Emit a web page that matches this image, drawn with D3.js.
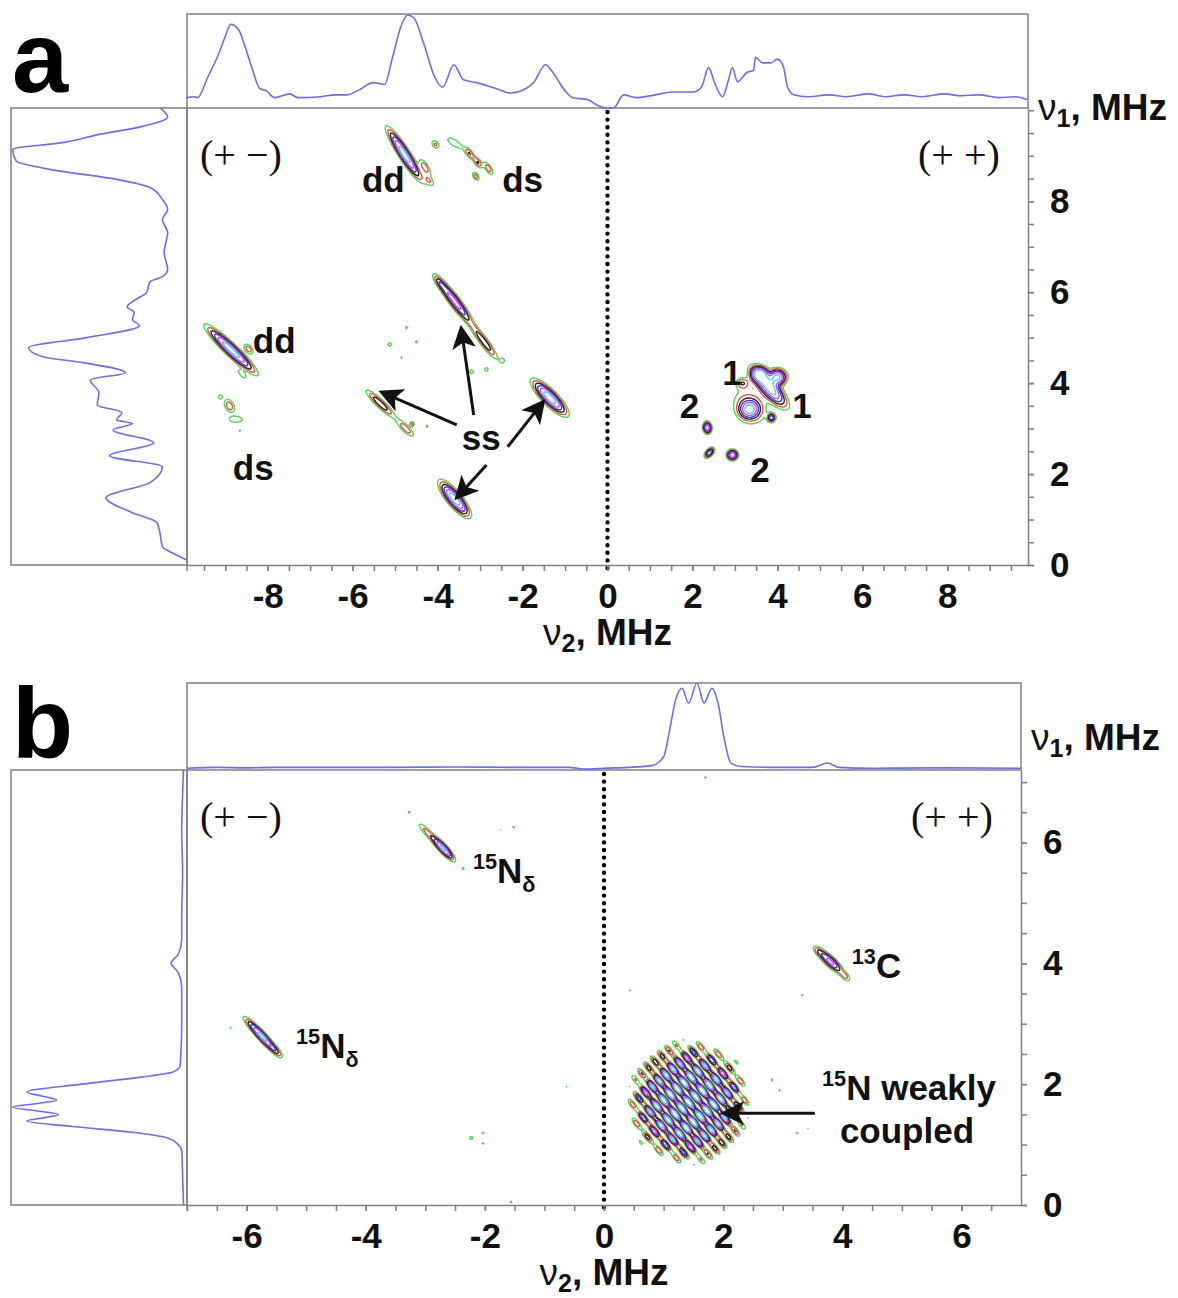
<!DOCTYPE html>
<html>
<head>
<meta charset="utf-8">
<script src="https://cdn.jsdelivr.net/npm/d3@7"></script>
<style>
  body { margin: 0; background: #fff; }
  svg text { font-family: "Liberation Sans", Arial, sans-serif; }
</style>
</head>
<body>
<div id="chart"></div>
<script>
// ---------- panel a : projections [nu, relative intensity] ----------
var topProjA = [[-9.91,0.11],[-9.72,0.12],[-9.65,0.11],[-9.41,0.33],[-9.15,0.58],[-9.01,0.75],[-8.87,0.89],[-8.68,0.83],[-8.56,0.69],[-8.38,0.44],[-8.19,0.21],[-8.02,0.18],[-7.84,0.11],[-7.48,0.15],[-7.29,0.11],[-6.75,0.12],[-6.40,0.14],[-6.14,0.14],[-5.86,0.19],[-5.51,0.27],[-5.25,0.25],[-5.06,0.54],[-4.87,0.86],[-4.71,0.99],[-4.56,0.96],[-4.33,0.69],[-4.07,0.33],[-3.88,0.22],[-3.62,0.46],[-3.39,0.30],[-3.08,0.27],[-2.64,0.21],[-2.28,0.16],[-1.91,0.21],[-1.74,0.27],[-1.46,0.46],[-1.29,0.38],[-1.01,0.19],[-0.82,0.11],[-0.47,0.09],[-0.24,0.03],[-0.02,0.0],[0.14,0.0],[0.38,0.14],[0.68,0.11],[1.13,0.14],[1.51,0.17],[2.02,0.17],[2.21,0.22],[2.38,0.43],[2.52,0.27],[2.71,0.12],[2.85,0.30],[2.94,0.43],[3.06,0.28],[3.29,0.38],[3.44,0.40],[3.48,0.54],[3.65,0.48],[3.84,0.48],[4.0,0.52],[4.14,0.44],[4.24,0.22],[4.38,0.14],[4.73,0.12],[5.22,0.14],[5.62,0.12],[6.16,0.15],[6.52,0.12],[6.99,0.14],[7.41,0.12],[7.93,0.15],[8.33,0.13],[8.75,0.14],[9.22,0.11],[9.58,0.12],[9.88,0.09]];

var leftProjA = [[10.04,0.15],[9.85,0.11],[9.63,0.27],[9.47,0.50],[9.30,0.69],[9.14,0.99],[8.88,0.97],[8.70,0.78],[8.48,0.40],[8.30,0.21],[8.04,0.14],[7.82,0.11],[7.60,0.14],[7.31,0.11],[6.87,0.13],[6.50,0.11],[6.34,0.14],[6.23,0.21],[5.99,0.23],[5.84,0.29],[5.68,0.34],[5.55,0.30],[5.40,0.31],[5.26,0.27],[5.00,0.57],[4.78,0.90],[4.58,0.82],[4.45,0.59],[4.23,0.35],[4.07,0.55],[3.79,0.50],[3.52,0.51],[3.35,0.37],[3.19,0.40],[3.11,0.31],[2.97,0.42],[2.69,0.19],[2.40,0.44],[2.16,0.14],[1.81,0.21],[1.48,0.46],[1.15,0.31],[0.93,0.17],[0.62,0.15],[0.40,0.14],[0.26,0.08],[0.11,0.0]];

// cross peaks [nu2, nu1, amplitude, sigma along, sigma across, ridge slope]
var peaksA = [
  [-4.78,9.03,1.0,0.38,0.07,-1.44],[-4.3,8.75,0.3,0.15,0.06,-1.44],[-4.05,9.25,0.25,0.08,0.06,-1.0],[-4.2,8.45,0.22,0.12,0.06,-1.0],
  [-3.6,9.28,0.2,0.2,0.07,-0.6],[-3.25,9.05,0.32,0.1,0.05,-1.2],[-3.05,8.85,0.35,0.1,0.05,-1.2],[-2.8,8.72,0.3,0.12,0.05,-1.5],[-3.1,8.55,0.28,0.08,0.05,-1.2],
  [-8.86,4.73,1.0,0.42,0.075,-0.88],[-8.45,4.75,0.3,0.1,0.06,-1.0],[-8.6,4.2,0.2,0.12,0.05,-1.0],
  [-8.9,3.5,0.3,0.12,0.08,-1.5],[-8.75,3.2,0.22,0.15,0.06,0],[-9.12,3.7,0.18,0.05,0.05,0],[-8.65,2.95,0.15,0.04,0.04,0],
  [-3.6,5.8,0.75,0.38,0.07,-1.22],[-3.95,6.2,0.22,0.14,0.05,-1.22],[-2.9,4.9,0.45,0.3,0.06,-1.22],[-3.2,4.25,0.18,0.06,0.05,0],[-2.85,4.3,0.18,0.05,0.05,0],[-2.47,4.5,0.18,0.05,0.05,0],
  [-5.13,4.85,0.18,0.05,0.05,0],[-4.73,5.22,0.16,0.04,0.04,0],[-4.5,4.91,0.16,0.04,0.04,0],[-4.85,4.56,0.15,0.04,0.04,0],
  [-5.35,3.55,0.45,0.28,0.06,-0.87],[-4.75,3.0,0.3,0.18,0.06,-0.87],[-4.6,3.1,0.3,0.04,0.04,0],[-4.25,3.05,0.16,0.04,0.04,0],
  [-1.36,3.68,1.0,0.3,0.09,-0.93],
  [-3.6,1.45,1.0,0.28,0.09,-1.1],
  [3.81,3.9,1.0,0.32,0.11,-1.04],[4.0,4.13,0.9,0.13,0.11,0],[3.58,4.2,0.85,0.12,0.1,0],[3.86,3.24,0.55,0.06,0.06,0],[3.34,3.42,0.75,0.14,0.12,0],[3.35,3.5,0.3,0.3,0.25,-1],[3.18,4.0,0.3,0.1,0.08,0],
  [2.35,3.02,0.8,0.08,0.06,-8],[2.4,2.47,0.6,0.09,0.05,1.0],[2.94,2.42,0.8,0.08,0.07,0],[2.87,2.97,0.15,0.03,0.03,0]
];
var blobsA = [];

var xTicksA = [-8,-6,-4,-2,0,2,4,6,8];
var yTicksA = [0,2,4,6,8];
var labelsA = [
  [-5.78,8.2,[["dd"]]],[-2.48,8.2,[["ds"]]],[-8.35,4.66,[["dd"]]],[-8.82,1.87,[["ds"]]],
  [-3.43,2.53,[["ss"]]],[2.7,3.96,[["1"]]],[4.35,3.23,[["1"]]],[1.7,3.23,[["2"]]],[3.36,1.83,[["2"]]]
];
var arrowsA = [[-3.55,3.08,-5.29,3.79],[-3.15,3.30,-3.44,5.18],[-2.35,2.60,-1.53,3.57],[-2.85,2.20,-3.53,1.50]];

// ---------- panel b ----------
var topProjB = [[-7.0,0.02],[-6.5,0.03],[-6.0,0.025],[-5.5,0.03],[-4.5,0.03],[-3.5,0.03],[-2.5,0.035],[-1.5,0.03],[-0.6,0.03],[-0.3,0.01],[0,0.02],[0.4,0.03],[0.8,0.05],[1.0,0.15],[1.1,0.45],[1.2,0.8],[1.31,0.94],[1.42,0.77],[1.56,1.0],[1.68,0.77],[1.81,0.94],[1.92,0.75],[2.02,0.35],[2.13,0.08],[2.3,0.04],[3.0,0.03],[3.5,0.03],[3.75,0.08],[3.95,0.03],[4.5,0.02],[5.5,0.025],[7.0,0.02]];
var leftProjB = [[7.2,0.02],[6.8,0.025],[6.2,0.03],[5.5,0.025],[4.8,0.03],[4.4,0.03],[4.15,0.05],[4.0,0.09],[3.85,0.05],[3.6,0.03],[3.0,0.03],[2.5,0.035],[2.3,0.04],[2.2,0.08],[2.12,0.25],[2.0,0.6],[1.87,0.91],[1.80,0.82],[1.74,0.74],[1.68,0.85],[1.62,0.99],[1.56,0.86],[1.50,0.73],[1.45,0.8],[1.39,0.91],[1.3,0.65],[1.2,0.3],[1.11,0.11],[1.0,0.05],[0.9,0.03],[0.5,0.025],[0,0.02]];
var peaksB = [
  [-2.7,5.9,0.9,0.15,0.04,-1.06],[-2.97,6.17,0.25,0.16,0.04,-1.06],
  [-5.72,2.77,0.9,0.18,0.04,-1.1],[-5.92,2.97,0.25,0.15,0.04,-1.1],[-5.5,2.55,0.25,0.1,0.04,-1.1],
  [3.8,4.03,0.7,0.16,0.05,-0.9],[3.6,4.2,0.2,0.08,0.04,-0.9],[4.05,3.78,0.22,0.08,0.04,-0.9],
  [-3.27,6.5,0.15,0.03,0.03,0],[-1.52,6.25,0.15,0.03,0.03,0],[-1.74,6.2,0.14,0.02,0.02,0],[-2.36,5.57,0.15,0.03,0.03,0],
  [-5.58,4.64,0.14,0.02,0.02,0],[-6.26,2.94,0.15,0.03,0.03,0],[-3.99,2.53,0.14,0.02,0.02,0],
  [-2.23,1.11,0.16,0.04,0.04,0],[-2.03,1.19,0.15,0.03,0.03,0],[-2.03,1.02,0.15,0.03,0.03,0],[-0.64,1.95,0.15,0.03,0.03,0],
  [-1.56,0.05,0.15,0.03,0.03,0],[3.33,3.47,0.15,0.03,0.03,0],[0.44,3.56,0.15,0.03,0.03,0],[1.7,7.08,0.15,0.03,0.03,0],
  [2.82,2.07,0.15,0.03,0.03,0],[3.26,1.87,0.14,0.02,0.02,0],[3.24,1.19,0.15,0.03,0.03,0],[3.42,1.27,0.14,0.02,0.02,0],[2.95,1.9,0.15,0.03,0.03,0]
];
// broad hatched ridge [nu2, nu1, amplitude, radius, stripe spacing, dash spacing, slope]
var blobsB = [[1.42,1.7,1.4,0.72,0.15,0.3,-1.2]];

var xTicksB = [-6,-4,-2,0,2,4,6];
var yTicksB = [0,2,4,6];
var labelsB = [
  [-2.2,5.33,[["15","sup"],["N"],["δ","sub"]]],[-5.17,2.43,[["15","sup"],["N"],["δ","sub"]]],
  [4.16,3.76,[["13","sup"],["C"]]],[3.66,1.74,[["15","sup"],["N weakly"]]],[3.96,1.03,[["coupled"]]]
];
var arrowsB = [[3.54,1.52,2.03,1.52]];

// contour levels, outermost first
var levels = [0.13, 0.22, 0.33, 0.46, 0.62, 0.82];
var levelColors = ["#55d455", "#e2574c", "#222222", "#3b3bd6", "#d946d9", "#46d6e0"];

var svg = d3.select("#chart").append("svg")
  .attr("width", 1178).attr("height", 1298)
  .style("background", "#fff");

var defs = svg.append("defs");
defs.append("marker").attr("id", "head")
  .attr("viewBox", "0 0 10 10").attr("refX", 8).attr("refY", 5)
  .attr("markerWidth", 8).attr("markerHeight", 8).attr("orient", "auto")
  .append("path").attr("d", "M0,0 L10,5 L0,10 L2.5,5 z").attr("fill", "#111");

function peakValue(p, v2, v1) {
  var n = Math.hypot(1, p[5]), ux = 1 / n, uy = p[5] / n;
  var dx = v2 - p[0], dy = v1 - p[1];
  var u = dx * ux + dy * uy, w = -dx * uy + dy * ux;
  var e = 0.5 * (u * u / (p[3] * p[3]) + w * w / (p[4] * p[4]));
  return e > 20 ? 0 : p[2] * Math.exp(-e);
}

function blobValue(b, v2, v1) {
  var dx = v2 - b[0], dy = v1 - b[1];
  var r = Math.hypot(dx, dy) / b[3];
  if (r > 2.2) return 0;
  var n = Math.hypot(1, b[6]), ux = 1 / n, uy = b[6] / n;
  var u = dx * ux + dy * uy, w = -dx * uy + dy * ux;
  var across = (1 + Math.cos(2 * Math.PI * w / b[4])) / 2;
  var along = 0.35 + 0.65 * (1 + Math.cos(2 * Math.PI * u / b[5])) / 2;
  return b[2] * Math.exp(-0.5 * r * r * r * r) * across * along;
}

function panel(o) {
  var g = svg.append("g");
  var x = d3.scaleLinear().domain(o.xDomain).range([o.left, o.right]);
  var y = d3.scaleLinear().domain(o.yDomain).range([o.bottom, o.top]);
  var ty = d3.scaleLinear().domain([0, 1]).range([o.top, o.projTop]);
  var lx = d3.scaleLinear().domain([0, 1]).range([o.left, o.projLeft]);

  var clipId = "clip" + o.name;
  defs.append("clipPath").attr("id", clipId).append("rect")
    .attr("x", o.left).attr("y", o.top).attr("width", o.right - o.left).attr("height", o.bottom - o.top);

  // projection boxes
  g.append("rect").attr("x", o.left).attr("y", o.projTop)
    .attr("width", o.right - o.left).attr("height", o.top - o.projTop)
    .attr("fill", "none").attr("stroke", "#808080").attr("stroke-width", 1.5);
  g.append("rect").attr("x", o.projLeft).attr("y", o.top)
    .attr("width", o.left - o.projLeft).attr("height", o.bottom - o.top)
    .attr("fill", "none").attr("stroke", "#808080").attr("stroke-width", 1.5);

  // contour map
  var step = 1.5;
  var nx = Math.ceil((o.right - o.left) / step) + 1, ny = Math.ceil((o.bottom - o.top) / step) + 1;
  var vals = new Float64Array(nx * ny);
  for (var j = 0; j < ny; j++) {
    var v1 = y.invert(o.top + j * step);
    for (var i = 0; i < nx; i++) {
      var v2 = x.invert(o.left + i * step), s = 0;
      o.peaks.forEach(function(p) { s += peakValue(p, v2, v1); });
      o.blobs.forEach(function(b) { s += blobValue(b, v2, v1); });
      vals[j * nx + i] = s;
    }
  }
  var contours = d3.contours().size([nx, ny]).thresholds(levels)(vals);
  var path = d3.geoPath(d3.geoTransform({
    point: function(px, py) { this.stream.point(o.left + (px - 0.5) * step, o.top + (py - 0.5) * step); }
  }));
  g.append("g").attr("clip-path", "url(#" + clipId + ")")
    .selectAll("path").data(contours).join("path")
    .attr("d", path).attr("fill", "none")
    .attr("stroke", function(d, i) { return levelColors[i]; })
    .attr("stroke-width", 1.4).attr("stroke-linejoin", "round");

  // dotted zero line
  g.append("line").attr("x1", x(0)).attr("x2", x(0)).attr("y1", o.top + 4).attr("y2", o.bottom + 4)
    .attr("stroke", "#000").attr("stroke-width", 4.4).attr("stroke-linecap", "round")
    .attr("stroke-dasharray", "0,7.6");

  // left frame line of the map
  g.append("line").attr("x1", o.left).attr("x2", o.left).attr("y1", o.top).attr("y2", o.bottom + 6)
    .attr("stroke", "#808080").attr("stroke-width", 1.5);

  // axes
  var minorX = d3.axisBottom(x).tickValues(d3.range(Math.ceil(o.xDomain[0] * 2) / 2, o.xDomain[1], 0.5))
    .tickFormat("").tickSize(6).tickSizeOuter(0);
  g.append("g").attr("transform", "translate(0," + o.bottom + ")").call(minorX)
    .call(function(a) { a.selectAll("line,path").attr("stroke", "#808080").attr("stroke-width", 1.5); });
  var majorX = d3.axisBottom(x).tickValues(o.xTicks).tickFormat(function(d) { return String(d); })
    .tickSize(6).tickPadding(12).tickSizeOuter(0);
  var ax = g.append("g").attr("transform", "translate(0," + o.bottom + ")").call(majorX);
  ax.select(".domain").remove();
  ax.selectAll("line").attr("stroke", "#808080").attr("stroke-width", 1.5);
  ax.selectAll("text").attr("font-size", 35).attr("font-weight", "bold").attr("fill", "#111")
    .attr("font-family", "Liberation Sans, Arial, sans-serif");

  var minorY = d3.axisRight(y).tickValues(d3.range(0, o.yDomain[1], 0.5))
    .tickFormat("").tickSize(6).tickSizeOuter(0);
  g.append("g").attr("transform", "translate(" + o.right + ",0)").call(minorY)
    .call(function(a) { a.selectAll("line,path").attr("stroke", "#808080").attr("stroke-width", 1.5); });
  var majorY = d3.axisRight(y).tickValues(o.yTicks).tickFormat(function(d) { return String(d); })
    .tickSize(6).tickPadding(16).tickSizeOuter(0);
  var ay = g.append("g").attr("transform", "translate(" + o.right + ",0)").call(majorY);
  ay.select(".domain").remove();
  ay.selectAll("line").attr("stroke", "#808080").attr("stroke-width", 1.5);
  ay.selectAll("text").attr("font-size", 35).attr("font-weight", "bold").attr("fill", "#111")
    .attr("font-family", "Liberation Sans, Arial, sans-serif");

  // projections
  g.append("path").datum(o.topProj)
    .attr("d", d3.line().x(function(d) { return x(d[0]); }).y(function(d) { return ty(d[1]); }).curve(d3.curveMonotoneX))
    .attr("fill", "none").attr("stroke", "#6e6ee8").attr("stroke-width", 1.6);
  g.append("path").datum(o.leftProj)
    .attr("d", d3.line().x(function(d) { return lx(d[1]); }).y(function(d) { return y(d[0]); }).curve(d3.curveMonotoneY))
    .attr("fill", "none").attr("stroke", "#6e6ee8").attr("stroke-width", 1.6);

  // quadrant tags
  g.append("text").attr("x", o.left + 13).attr("y", o.top + 60)
    .style("font-family", "'Liberation Serif', serif").attr("font-size", 40).attr("fill", "#111")
    .text("(+ \u2212)");
  g.append("text").attr("x", o.right - 110).attr("y", o.top + 60)
    .style("font-family", "'Liberation Serif', serif").attr("font-size", 40).attr("fill", "#111")
    .text("(+ +)");

  // arrows
  g.selectAll(".arr").data(o.arrows).join("line")
    .attr("x1", function(d) { return x(d[0]); }).attr("y1", function(d) { return y(d[1]); })
    .attr("x2", function(d) { return x(d[2]); }).attr("y2", function(d) { return y(d[3]); })
    .attr("stroke", "#111").attr("stroke-width", 3).attr("marker-end", "url(#head)");

  // peak labels
  o.labels.forEach(function(l) {
    var size = 35, t = g.append("text").attr("x", x(l[0])).attr("y", y(l[1]))
      .attr("font-size", size).attr("font-weight", "bold").attr("fill", "#111");
    var cur = 0;
    l[2].forEach(function(seg) {
      var off = seg[1] === "sup" ? -size * 0.4 : seg[1] === "sub" ? size * 0.25 : 0;
      var sp = t.append("tspan").text(seg[0]).attr("dy", off - cur);
      if (seg[1]) sp.attr("font-size", size * 0.62);
      cur = off;
    });
  });

  // panel letter
  g.append("text").attr("x", 12).attr("y", o.letterY)
    .attr("font-size", o.letterSize).attr("font-weight", "bold").attr("fill", "#000").text(o.name);

  // axis titles
  var nu = function(sel, sub) {
    sel.append("tspan").attr("font-weight", "normal").text("\u03bd");
    sel.append("tspan").attr("font-size", 25).attr("dy", 7).text(sub);
    sel.append("tspan").attr("dy", -7).text(", MHz");
  };
  g.append("text").attr("x", o.right + 10).attr("y", o.titleY)
    .attr("font-size", 37).attr("font-weight", "bold").attr("fill", "#111").call(nu, "1");
  g.append("text").attr("x", x(0)).attr("y", o.bottom + 80).attr("text-anchor", "middle")
    .attr("font-size", 37).attr("font-weight", "bold").attr("fill", "#111").call(nu, "2");
}

panel({
  name: "a", left: 187, right: 1028, top: 108, bottom: 565, projTop: 14, projLeft: 11,
  xDomain: [-9.9, 9.9], yDomain: [0, 10.05], xTicks: xTicksA, yTicks: yTicksA,
  topProj: topProjA, leftProj: leftProjA, peaks: peaksA, blobs: blobsA,
  labels: labelsA, arrows: arrowsA, letterY: 92, letterSize: 101, titleY: 120
});
panel({
  name: "b", left: 187, right: 1021, top: 770, bottom: 1205, projTop: 683, projLeft: 11,
  xDomain: [-7, 7], yDomain: [0, 7.2], xTicks: xTicksB, yTicks: yTicksB,
  topProj: topProjB, leftProj: leftProjB, peaks: peaksB, blobs: blobsB,
  labels: labelsB, arrows: arrowsB, letterY: 758, letterSize: 100, titleY: 750
});
</script>
</body>
</html>
